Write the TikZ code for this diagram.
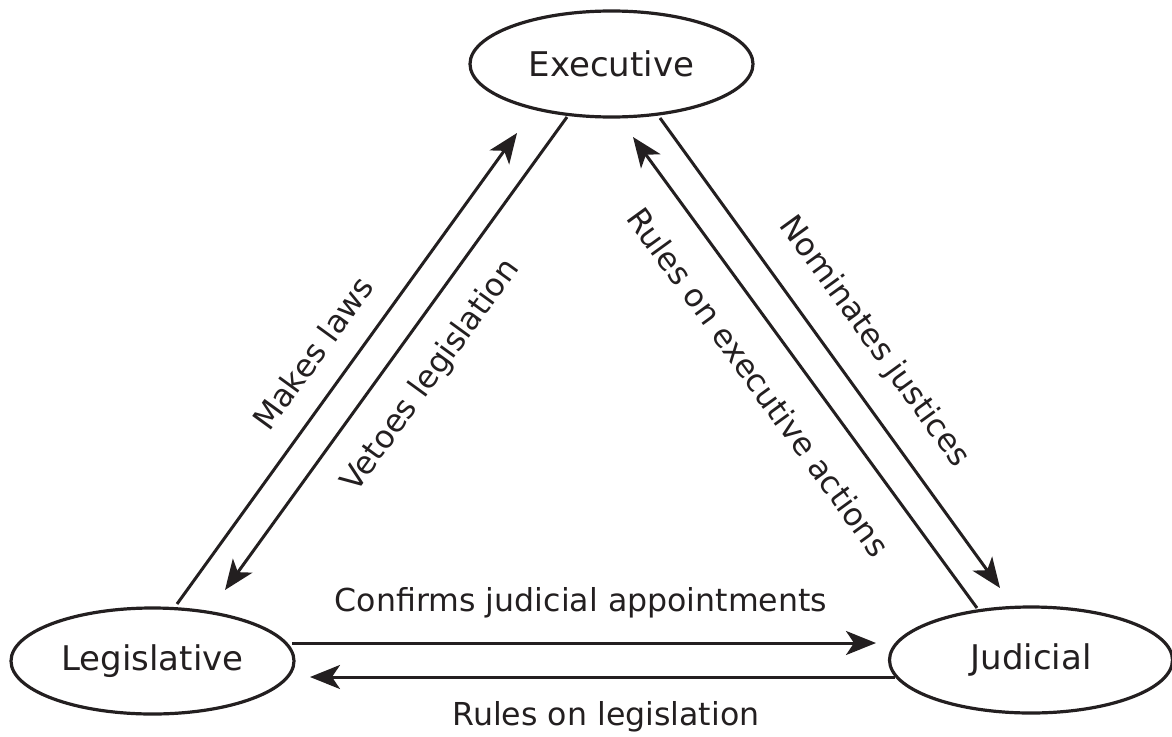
\documentclass[tikz,border=0pt]{standalone}
\usepackage{fontspec}
\setmainfont{DejaVu Sans}
\usetikzlibrary{shapes.geometric,arrows.meta}
\definecolor{ink}{RGB}{35,31,32}
\begin{document}
\begin{tikzpicture}[x=1pt,y=-1pt,
  branch/.style={draw=ink, line width=3.2pt, ellipse, minimum width=283pt, minimum height=106pt, inner sep=0pt, font=\fontsize{34}{40}\selectfont, text=ink},
  conn/.style={draw=ink, line width=3pt, -{Stealth[length=30pt,width=24pt,inset=8pt]}},
  lbl/.style={font=\fontsize{31.6}{38}\selectfont, text=ink, inner sep=0pt}]
\useasboundingbox (0,0) rectangle (1172,736);
\node[branch] (E) at (611.5,64) {Executive};
\node[branch] (L) at (152.5,661) {Legislative};
\node[branch] (J) at (1031,660) {Judicial};
\coordinate (ml0) at (177,604);
\coordinate (ml1) at (517,133);
\coordinate (vl0) at (567,117);
\coordinate (vl1) at (225,590);
\coordinate (nj0) at (660,118);
\coordinate (nj1) at (1000,588);
\coordinate (re0) at (977,608);
\coordinate (re1) at (633,137);
\coordinate (cj0) at (292,643);
\coordinate (cj1) at (876,643);
\coordinate (rl0) at (895,677);
\coordinate (rl1) at (310,677);
\draw[conn] (ml0) -- (ml1);
\draw[conn] (vl0) -- (vl1);
\draw[conn] (nj0) -- (nj1);
\draw[conn] (re0) -- (re1);
\draw[conn] (cj0) -- (cj1);
\draw[conn] (rl0) -- (rl1);
\node[lbl, rotate=54] (tml) at (313,353) {Makes laws};
\node[lbl, rotate=54] (tvl) at (431,376) {Vetoes legislation};
\node[lbl, rotate=-54] (tre) at (759,382) {Rules on executive actions};
\node[lbl, rotate=-54] (tnj) at (874,342) {Nominates justices};
\node[lbl] (tcj) at (581,603) {Confirms judicial appointments};
\node[lbl] (trl) at (606,717) {Rules on legislation};
\end{tikzpicture}
\end{document}
